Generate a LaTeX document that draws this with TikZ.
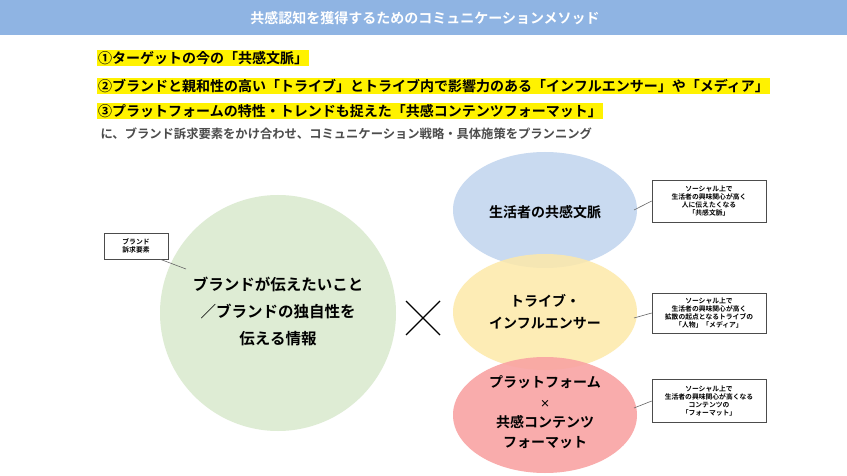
\documentclass[tikz,border=0pt]{standalone}
\usepackage{fontspec}
\setmainfont{Noto Sans CJK JP}[BoldFont={Noto Sans CJK JP Bold}]
\newfontfamily\jpb{Noto Sans CJK JP Bold}
\begin{document}
\begin{tikzpicture}[x=1pt,y=-1pt,
  hl/.style={fill=yellow,inner sep=1pt,anchor=west,font=\jpb\fontsize{14}{16}\selectfont},
  callout/.style={draw=black!70,fill=white,line width=0.6pt,align=center,font=\jpb\fontsize{6.8}{8.2}\selectfont,inner sep=1pt},
  lead/.style={draw=black!60,line width=0.6pt},
  big/.style={align=center,font=\jpb\fontsize{15.5}{27}\selectfont}]
\useasboundingbox (0,0) rectangle (847,476);
\fill[white] (0,0) rectangle (847,476);
\fill[color={rgb,255:red,143;green,180;blue,227}] (0,0) rectangle (847,35);
\node[white,font=\jpb\fontsize{14}{16}\selectfont] (title) at (425,18) {共感認知を獲得するためのコミュニケーションメソッド};
\node[hl] (l1) at (97,58) {①ターゲットの今の「共感文脈」};
\node[hl] (l2) at (97,86) {②ブランドと親和性の高い「トライブ」とトライブ内で影響力のある「インフルエンサー」や「メディア」};
\node[hl] (l3) at (97,111) {③プラットフォームの特性・トレンドも捉えた「共感コンテンツフォーマット」};
\node[anchor=west,text=black!70,font=\jpb\fontsize{12.3}{14}\selectfont] (l4) at (97,134) {に、ブランド訴求要素をかけ合わせ、コミュニケーション戦略・具体施策をプランニング};
% circles
\fill[color={rgb,255:red,222;green,236;blue,212}] (278,313) circle (118);
\node[big] (main) at (278,311) {ブランドが伝えたいこと\\／ブランドの独自性を\\伝える情報};
\draw[line width=1.2pt] (406,301) -- (440,335) (406,335) -- (440,301);
\fill[color={rgb,255:red,201;green,218;blue,240}] (545,210) ellipse (92 and 58);
\fill[color={rgb,255:red,253;green,233;blue,169},fill opacity=0.85] (545,312) ellipse (92 and 58);
\fill[color={rgb,255:red,249;green,163;blue,163},fill opacity=0.9] (545,415) ellipse (92 and 58);
\node[big,font=\jpb\fontsize{14}{22}\selectfont] (e1) at (545,212) {生活者の共感文脈};
\node[big,font=\jpb\fontsize{14}{22}\selectfont] (e2) at (545,312) {トライブ・\\インフルエンサー};
\node[big,font=\jpb\fontsize{14}{20}\selectfont] (e3) at (545,412) {プラットフォーム\\{\fontsize{10}{12}\selectfont ×}\\共感コンテンツ\\フォーマット};
% callouts
\node[callout,minimum width=114pt,minimum height=42pt] (c1) at (709,201) {ソーシャル上で\\生活者の興味関心が高く\\人に伝えたくなる\\「共感文脈」};
\node[callout,minimum width=114pt,minimum height=40pt] (c2) at (709,313) {ソーシャル上で\\生活者の興味関心が高く\\拡散の起点となるトライブの\\「人物」「メディア」};
\node[callout,minimum width=114pt,minimum height=43pt] (c3) at (709,401) {ソーシャル上で\\生活者の興味関心が高くなる\\コンテンツの\\「フォーマット」};
\coordinate (p1) at (634,210);
\coordinate (p2) at (634,318);
\coordinate (p3) at (634,408);
\draw[lead] (p1) -- (c1.west);
\draw[lead] (p2) -- (c2.west);
\draw[lead] (p3) -- (c3.west);
\node[callout,minimum width=64pt,minimum height=26pt] (c0) at (136,246) {ブランド\\訴求要素};
\coordinate (p0) at (186,269);
\draw[lead] (c0.south east) ++(-8,0) -- (p0);
\end{tikzpicture}
\end{document}
